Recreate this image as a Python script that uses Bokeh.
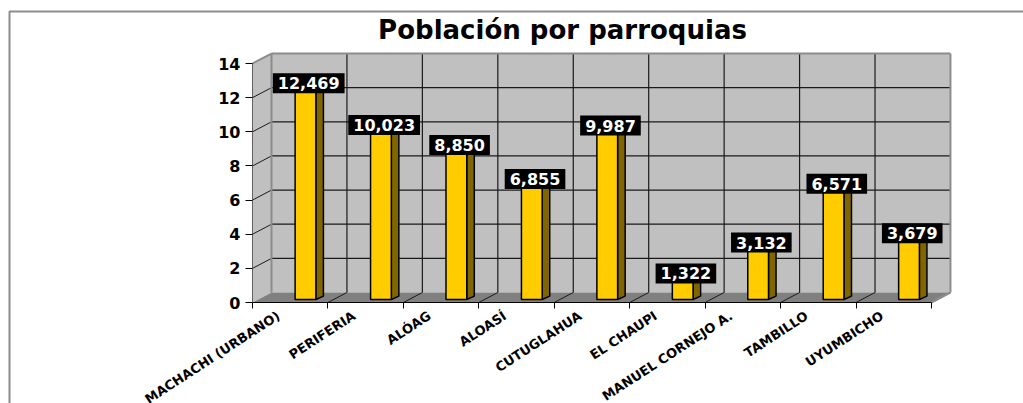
from bokeh.plotting import figure
from bokeh.models import Range1d, FixedTicker, Label
from bokeh.core.properties import value
from bokeh.embed import file_html
from bokeh.resources import INLINE

# ---------------- data ----------------
categories = ["MACHACHI (URBANO)", "PERIFERIA", "ALÓAG", "ALOASÍ", "CUTUGLAHUA",
              "EL CHAUPI", "MANUEL CORNEJO A.", "TAMBILLO", "UYUMBICHO"]
population = [12469, 10023, 8850, 6855, 9987, 1322, 3132, 6571, 3679]
y_ticks = [0, 2, 4, 6, 8, 10, 12, 14]
title_text = "Población por parroquias"

# ---------------- geometry helpers ----------------
PAGE = 0
W, H = 1023, 403
X0_PX, X_UNIT = 252.0, 75.44   # front axis origin (page px) and px per category
Y0_PX, Y_UNIT = 302.0, 17.07   # baseline (page px) and px per thousand


def px2x(px):
    return (px - X0_PX) / X_UNIT


def py2y(py):
    return (Y0_PX - py) / Y_UNIT


DX, DY = 19 / X_UNIT, 10 / Y_UNIT     # wall depth
BDX, BDY = 0.10, 0.20                 # bar depth
BAR_L, BAR_R, BAR_B = 0.565, 0.84, 0.176
FONT = value("DejaVu Sans")

n = len(categories)
vals = [v / 1000 for v in population]
ymax = y_ticks[-1]

p = figure(width=W, height=H, output_backend="svg", toolbar_location=None,
           x_range=Range1d(px2x(PAGE), px2x(PAGE + W)),
           y_range=Range1d(py2y(PAGE + H), py2y(PAGE)),
           min_border=0)
p.outline_line_color = None
p.grid.visible = False
p.background_fill_color = "white"

# outer chart border
p.quad(left=px2x(9), right=px2x(1060), top=py2y(11), bottom=py2y(440),
       fill_color=None, line_color="#8c8c8c", line_width=2)

# walls and floor
p.quad(left=DX, right=n + DX, bottom=DY, top=ymax + DY,
       fill_color="#c0c0c0", line_color=None)
p.patch([0, DX, DX, 0], [0, DY, ymax + DY, ymax], fill_color="#c0c0c0", line_color=None)
p.patch([0, n, n + DX, DX], [0, 0, DY, DY], fill_color="#808080", line_color=None)

inner = y_ticks[1:-1]
p.segment(x0=[DX] * len(inner), y0=[t + DY for t in inner],
          x1=[n + DX] * len(inner), y1=[t + DY for t in inner],
          line_color="#1a1a1a", line_width=1.2)
p.segment(x0=[0] * len(inner), y0=inner, x1=[DX] * len(inner), y1=[t + DY for t in inner],
          line_color="#1a1a1a", line_width=1)
ks = list(range(1, n))
p.segment(x0=[k + DX for k in ks], y0=[DY] * len(ks), x1=[k + DX for k in ks],
          y1=[ymax + DY] * len(ks), line_color="#1a1a1a", line_width=1.2)
p.segment(x0=ks, y0=[0] * len(ks), x1=[k + DX for k in ks], y1=[DY] * len(ks),
          line_color="#1a1a1a", line_width=1)
# wall edges
p.multi_line(xs=[[DX, DX], [DX, n + DX], [n + DX, n + DX], [0, DX], [n, n + DX]],
             ys=[[DY, ymax + DY], [ymax + DY, ymax + DY], [DY, ymax + DY], [ymax, ymax + DY], [0, DY]],
             line_color="#8c8c8c", line_width=2)

# bars
idx = list(range(n))
lefts = [i + BAR_L for i in idx]
rights = [i + BAR_R for i in idx]
tops = [v + BAR_B for v in vals]
p.patches(xs=[[l, l + BDX, r + BDX, r] for l, r in zip(lefts, rights)],
          ys=[[t, t + BDY, t + BDY, t] for t in tops],
          fill_color="#ffe066", line_color="black", line_width=1.5)
p.patches(xs=[[r, r + BDX, r + BDX, r] for r in rights],
          ys=[[BAR_B, BAR_B + BDY, t + BDY, t] for t in tops],
          fill_color="#806600", line_color="black", line_width=1.5)
p.quad(left=lefts, right=rights, bottom=BAR_B, top=tops,
       fill_color="#ffcc00", line_color="black", line_width=1.5)

# value labels
p.text(x=[i + 0.745 for i in idx], y=[v + 0.38 for v in vals],
       text=[f"{v:,}" for v in population],
       text_color="white", text_font=FONT, text_font_style="bold", text_font_size="16px",
       text_align="center", text_baseline="middle",
       background_fill_color="black", padding=(5, 5, 4, 4))

# axes
xa = p.xaxis[0]
xa.fixed_location = 0
xa.bounds = (0, n)
label_pos = [i + 0.345 for i in idx]
xa.ticker = FixedTicker(ticks=label_pos, minor_ticks=list(range(n + 1)))
xa.major_label_overrides = {t: c for t, c in zip(label_pos, categories)}
xa.major_tick_out = 0
xa.major_tick_in = 0
xa.minor_tick_out = 6
xa.minor_tick_in = 0
xa.minor_tick_line_color = "black"
xa.axis_line_color = "black"
xa.major_label_orientation = 0.576
xa.major_label_standoff = 6
xa.major_label_text_font = "DejaVu Sans"
xa.major_label_text_font_style = "bold"
xa.major_label_text_font_size = "13px"
xa.major_label_text_color = "black"

ya = p.yaxis[0]
ya.fixed_location = 0
ya.bounds = (0, ymax)
ya.ticker = FixedTicker(ticks=y_ticks, minor_ticks=[])
ya.major_tick_out = 7
ya.major_tick_in = 0
ya.minor_tick_out = 0
ya.minor_tick_in = 0
ya.major_tick_line_color = "black"
ya.axis_line_color = "#606060"
ya.major_label_standoff = 5
ya.major_label_text_font = "DejaVu Sans"
ya.major_label_text_font_style = "bold"
ya.major_label_text_font_size = "16px"
ya.major_label_text_color = "black"

# title
p.add_layout(Label(x=px2x(562), y=py2y(29), text=title_text, text_align="center",
                   text_baseline="middle", text_font="DejaVu Sans", text_font_style="bold",
                   text_font_size="26px", text_color="black"))

open("out.html", "w").write(file_html(p, INLINE))
